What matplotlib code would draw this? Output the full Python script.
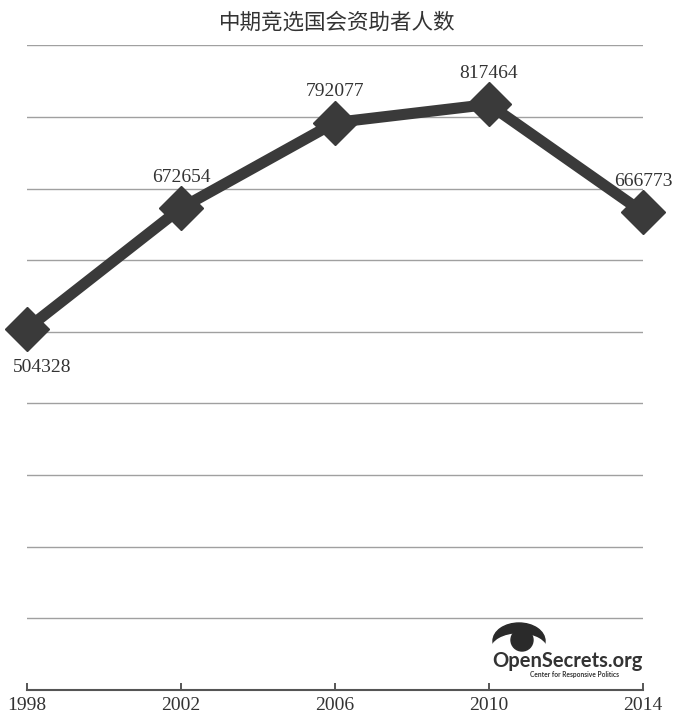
import matplotlib.pyplot as plt
from matplotlib.patches import Ellipse

years = [1998, 2002, 2006, 2010, 2014]
donors = [504328, 672654, 792077, 817464, 666773]
label_above = [False, True, True, True, True]

title = "中期竞选国会资助者人数"
line_color = "#3a3a3a"
grid_color = "#a0a0a0"
serif = ["Liberation Serif", "DejaVu Serif"]

fig = plt.figure(figsize=(6.74, 7.18), dpi=100)
ax = fig.add_axes([0.040, 0.039, 0.914, 0.898])

ax.set_xlim(1998, 2014)
ax.set_ylim(0, 900000)

for yv in range(100000, 900001, 100000):
    ax.axhline(yv, color=grid_color, linewidth=1.0, zorder=1)

ax.plot(years, donors, color=line_color, linewidth=8, marker="D",
        markersize=22, markerfacecolor=line_color, markeredgecolor=line_color,
        solid_joinstyle="miter", zorder=3, clip_on=False)

for x, y, up in zip(years, donors, label_above):
    dx = 0 if up else 11
    ax.annotate(str(y), (x, y), xytext=(dx, 16 if up else -22),
                textcoords="offset points", ha="center",
                va="bottom" if up else "top", fontsize=14,
                family=serif, color="#333333", zorder=4,
                annotation_clip=False)

ax.set_xticks(years)
ax.set_xticklabels([str(y) for y in years], family=serif, fontsize=14,
                   color="#333333")
ax.set_yticks([])
ax.tick_params(axis="x", direction="in", length=5, width=1.2,
               color=line_color, pad=5)
for side in ("top", "right", "left"):
    ax.spines[side].set_visible(False)
ax.spines["bottom"].set_color("#555555")
ax.spines["bottom"].set_linewidth(1.5)

fig.text(0.5, 0.969, title, ha="center", va="center", fontsize=15.5,
         family=["Noto Sans CJK SC", "DejaVu Sans"], color="#333333")

# OpenSecrets logo: eyelid crescent, pupil, wordmark
def px(x, y):
    return (x / 674, 1 - y / 718)

fig.patches.append(Ellipse(px(519, 641), 52 / 674, 36 / 718,
                           transform=fig.transFigure, color="#2a2a2a"))
fig.patches.append(Ellipse(px(519, 650), 56 / 674, 32 / 718,
                           transform=fig.transFigure, color="white"))
fig.patches.append(Ellipse(px(522, 640), 22 / 674, 22 / 718,
                           transform=fig.transFigure, color="#2a2a2a"))
fig.text(0.842, 0.080, "OpenSecrets.org", ha="center", va="center",
         fontsize=14.5, fontweight="bold", family="Lato",
         color="#333333")
fig.text(0.852, 0.060, "Center for Responsive Politics", ha="center",
         va="center", fontsize=4.8, fontweight="bold",
         family="Lato", color="#333333")

fig.savefig("out.png", dpi=100)
